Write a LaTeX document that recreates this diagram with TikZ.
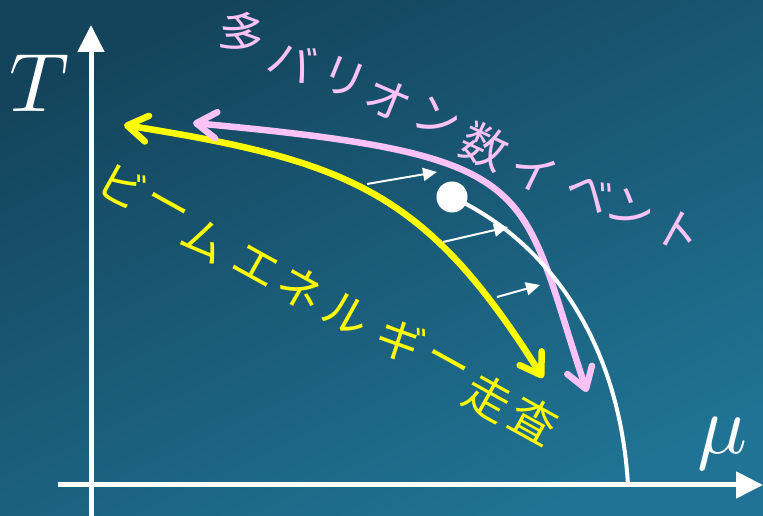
\documentclass[tikz,border=0pt]{standalone}
\usepackage{fontspec}
\usepackage{tikz}
\usetikzlibrary{arrows.meta}
\newfontfamily\jpfont{Noto Sans CJK JP}
\definecolor{bgtop}{RGB}{20,68,92}
\definecolor{bgbot}{RGB}{32,115,148}
\definecolor{pinkline}{RGB}{250,194,246}
\definecolor{yellowline}{RGB}{255,255,0}
\tikzstyle{axisline} = [draw=white, line width=5pt, -{Triangle[length=27pt,width=26pt]}]
\tikzstyle{axislabel} = [text=white, inner sep=0pt, scale=8.3]
\tikzstyle{sweep} = [line width=6.5pt, {Straight Barb[length=20pt,width=26pt,round]}-{Straight Barb[length=20pt,width=26pt,round]}]
\tikzstyle{nudge} = [draw=white, line width=2pt, -{Triangle[length=14pt,width=13pt]}]
\tikzstyle{kana} = [inner sep=0pt, font=\jpfont\fontsize{46}{46}\selectfont]

\begin{document}
\begin{tikzpicture}[x=1pt,y=1pt]
\useasboundingbox (0,0) rectangle (763,516);
\shade[top color=bgtop, bottom color=bgbot, shading angle=25] (0,0) rectangle (763,516);

% axes =============================
\coordinate (tlow) at (91,0);
\coordinate (thigh) at (91,491);
\coordinate (mulow) at (58,31);
\coordinate (muhigh) at (763,31);
\draw[axisline] (tlow) -- (thigh);
\draw[axisline] (mulow) -- (muhigh);
\node[axislabel, anchor=base west] (T) at (8,404) {$T$};
\node[axislabel, anchor=base] (mu) at (722,62) {$\mu$};

% sweeps
\coordinate (yhigh) at (124,391);
\coordinate (ylow) at (543,138);
\draw[sweep, yellowline] (yhigh) .. controls (349,355) and (426,325) .. (ylow);
\coordinate (phigh) at (193,393);
\coordinate (plow) at (587,124);
\draw[sweep, pinkline] (phigh) .. controls (548,360) and (517,333) .. (plow);

% phase boundary
\node[circle, fill=white, minimum size=31pt, inner sep=0pt] (cp) at (452,319) {};
\coordinate (edge) at (628,31);
\draw[white, line width=4pt] (cp.center) .. controls (543,277) and (619,181) .. (edge);

% small shifts
\coordinate (a1s) at (367,332);
\coordinate (a1e) at (437,344);
\coordinate (a2s) at (443,274);
\coordinate (a2e) at (508,289);
\coordinate (a3s) at (497,219);
\coordinate (a3e) at (540,231);
\draw[nudge] (a1s) -- (a1e);
\draw[nudge] (a2s) -- (a2e);
\draw[nudge] (a3s) -- (a3e);

% labels
\foreach \ch/\x/\y/\a [count=\i] in {多/242/483/-20, バ/293/456/-21, リ/344/438/-22, オ/388/416/-23, ン/437/398/-24, 数/485/370/-25, イ/534/344/-26, ベ/590/324/-27, ン/631/306/-28, ト/679/284/-29}
  \node[kana, text=pinkline, rotate=\a] (p\i) at (\x,\y) {\ch};
\foreach \ch/\x/\y [count=\i] in {ビ/123/330, ー/165/306, ム/205/276, エ/256/250, ネ/301/228, ル/347/202, ギ/400/176, ー/445/149, 走/488/119, 査/534/96}
  \node[kana, text=yellowline, rotate=-29] (y\i) at (\x,\y) {\ch};

\end{tikzpicture}
\end{document}
